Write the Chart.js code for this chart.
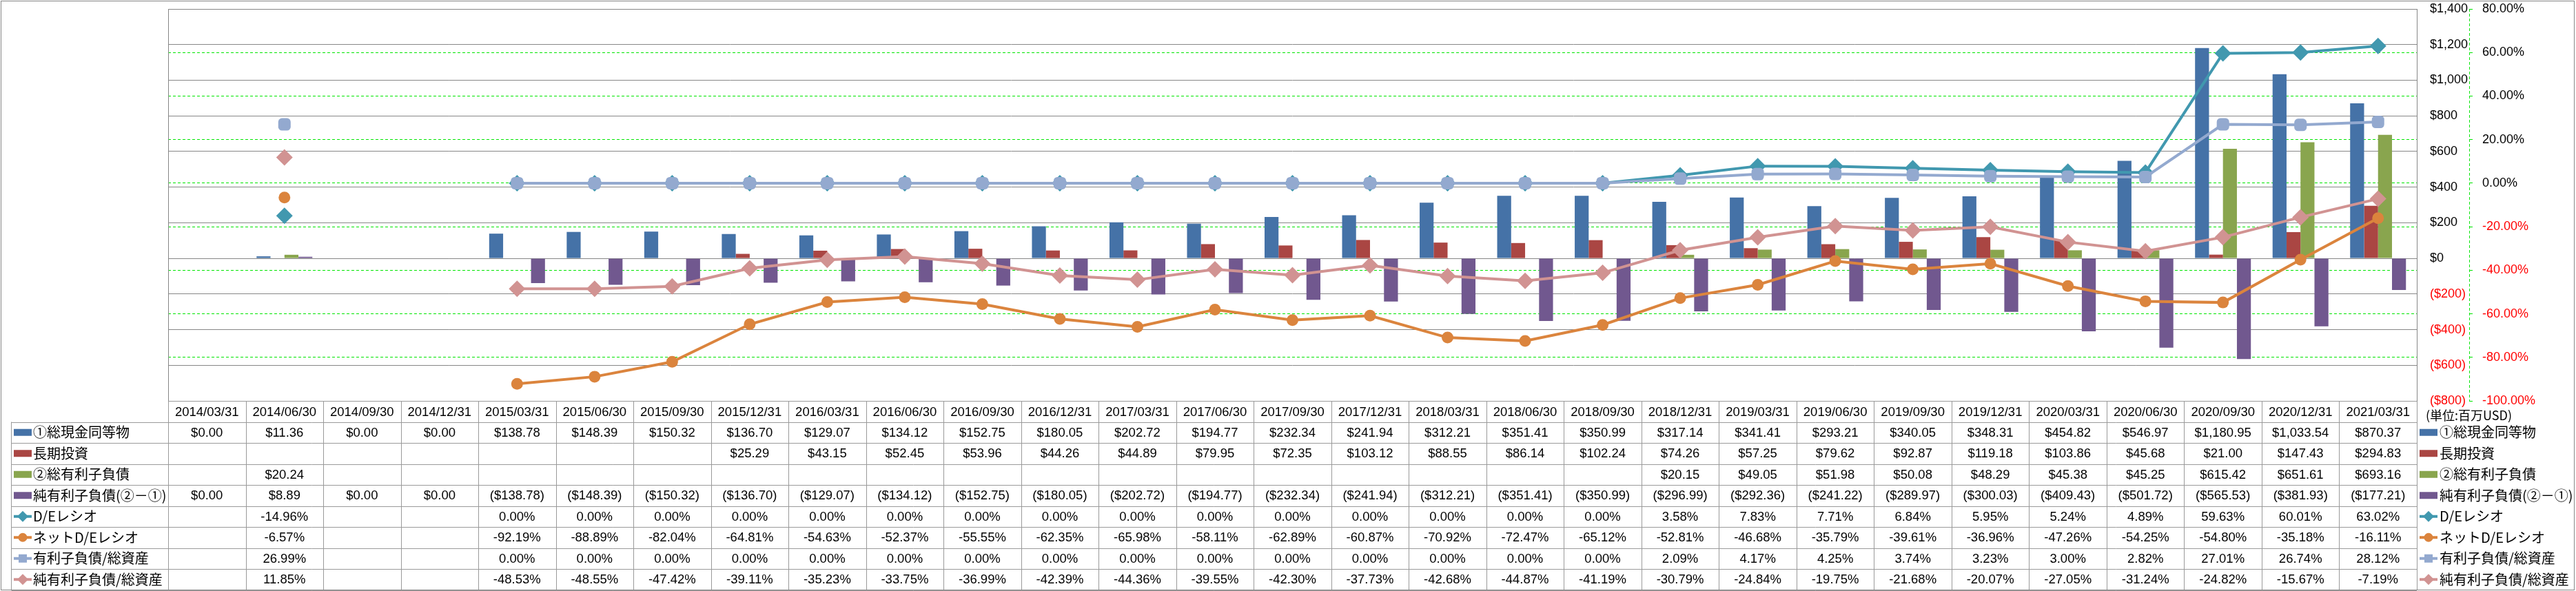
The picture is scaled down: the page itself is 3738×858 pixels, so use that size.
<!DOCTYPE html>
<html>
<head>
<meta charset="utf-8">
<script src="https://cdn.jsdelivr.net/npm/chart.js@4/dist/chart.umd.min.js"></script>
<style>
html, body { margin: 0; padding: 0; background: #fff; }
#wrap { width: 3738px; height: 858px; }
</style>
</head>
<body>
<div id="wrap"><canvas id="chart" width="3738" height="858"></canvas></div>
<script>
var categories = ['2014/03/31', '2014/06/30', '2014/09/30', '2014/12/31',
  '2015/03/31', '2015/06/30', '2015/09/30', '2015/12/31',
  '2016/03/31', '2016/06/30', '2016/09/30', '2016/12/31',
  '2017/03/31', '2017/06/30', '2017/09/30', '2017/12/31',
  '2018/03/31', '2018/06/30', '2018/09/30', '2018/12/31',
  '2019/03/31', '2019/06/30', '2019/09/30', '2019/12/31',
  '2020/03/31', '2020/06/30', '2020/09/30', '2020/12/31',
  '2021/03/31'];

// bars, million USD
var cash = [0.00, 11.36, 0.00, 0.00,
  138.78, 148.39, 150.32, 136.70,
  129.07, 134.12, 152.75, 180.05,
  202.72, 194.77, 232.34, 241.94,
  312.21, 351.41, 350.99, 317.14,
  341.41, 293.21, 340.05, 348.31,
  454.82, 546.97, 1180.95, 1033.54,
  870.37];
var longTermInv = [null, null, null, null,
  null, null, null, 25.29,
  43.15, 52.45, 53.96, 44.26,
  44.89, 79.95, 72.35, 103.12,
  88.55, 86.14, 102.24, 74.26,
  57.25, 79.62, 92.87, 119.18,
  103.86, 45.68, 21.00, 147.43,
  294.83];
var totalDebt = [null, 20.24, null, null,
  null, null, null, null,
  null, null, null, null,
  null, null, null, null,
  null, null, null, 20.15,
  49.05, 51.98, 50.08, 48.29,
  45.38, 45.25, 615.42, 651.61,
  693.16];
var netDebt = [0.00, 8.89, 0.00, 0.00,
  -138.78, -148.39, -150.32, -136.70,
  -129.07, -134.12, -152.75, -180.05,
  -202.72, -194.77, -232.34, -241.94,
  -312.21, -351.41, -350.99, -296.99,
  -292.36, -241.22, -289.97, -300.03,
  -409.43, -501.72, -565.53, -381.93,
  -177.21];

// lines, percent
var deRatio = [null, -14.96, null, null,
  0, 0, 0, 0,
  0, 0, 0, 0,
  0, 0, 0, 0,
  0, 0, 0, 3.58,
  7.83, 7.71, 6.84, 5.95,
  5.24, 4.89, 59.63, 60.01,
  63.02];
var netDeRatio = [null, -6.57, null, null,
  -92.19, -88.89, -82.04, -64.81,
  -54.63, -52.37, -55.55, -62.35,
  -65.98, -58.11, -62.89, -60.87,
  -70.92, -72.47, -65.12, -52.81,
  -46.68, -35.79, -39.61, -36.96,
  -47.26, -54.25, -54.80, -35.18,
  -16.11];
var debtToAssets = [null, 26.99, null, null,
  0, 0, 0, 0,
  0, 0, 0, 0,
  0, 0, 0, 0,
  0, 0, 0, 2.09,
  4.17, 4.25, 3.74, 3.23,
  3.00, 2.82, 27.01, 26.74,
  28.12];
var netDebtToAssets = [null, 11.85, null, null,
  -48.53, -48.55, -47.42, -39.11,
  -35.23, -33.75, -36.99, -42.39,
  -44.36, -39.55, -42.30, -37.73,
  -42.68, -44.87, -41.19, -30.79,
  -24.84, -19.75, -21.68, -20.07,
  -27.05, -31.24, -24.82, -15.67,
  -7.19];

var usdTicks = { min: -800, max: 1400, step: 200 };
var pctTicks = { min: -100, max: 80, step: 20 };
var unitLabel = '(単位:百万USD)';

var LATIN = '"Liberation Sans", Arial, sans-serif';
var CJK = '"Noto Sans CJK JP", "Noto Sans", sans-serif';

function money(v) {
  if (v == null) return '';
  var s = '$' + Math.abs(v).toLocaleString('en-US', { minimumFractionDigits: 2, maximumFractionDigits: 2 });
  return v < 0 ? '(' + s + ')' : s;
}
function pct(v) {
  if (v == null) return '';
  return v.toFixed(2) + '%';
}

// small legend marker, same look as in the table row headers
function drawKey(ctx, ds, x, cy) {
  ctx.save();
  if (ds.type === 'bar') {
    ctx.fillStyle = ds.backgroundColor;
    ctx.fillRect(x, cy - 5, 26, 10);
  } else {
    ctx.strokeStyle = ds.borderColor;
    ctx.lineWidth = 4;
    ctx.beginPath();
    ctx.moveTo(x, cy);
    ctx.lineTo(x + 26, cy);
    ctx.stroke();
    ctx.fillStyle = ds.borderColor;
    var cx = x + 13, r = 8;
    ctx.beginPath();
    if (ds.pointStyle === 'circle') {
      ctx.arc(cx, cy, 6.5, 0, Math.PI * 2);
    } else if (ds.pointStyle === 'rectRounded') {
      ctx.rect(cx - 6, cy - 6, 12, 12);
    } else {
      ctx.moveTo(cx, cy - r);
      ctx.lineTo(cx + r, cy);
      ctx.lineTo(cx, cy + r);
      ctx.lineTo(cx - r, cy);
      ctx.closePath();
    }
    ctx.fill();
  }
  ctx.restore();
}

var tablePlugin = {
  id: 'dataTable',
  afterDraw: function (chart) {
    var ctx = chart.ctx;
    var xs = chart.scales.x;
    var y1 = chart.scales.y1;
    var area = chart.chartArea;
    var n = categories.length;
    var colW = (area.right - area.left) / n;
    var top = Math.round(area.bottom) + 0.5;
    var headH = 30;
    var rowH = 30.5;
    var left = 16.5;
    var datasets = chart.data.datasets;

    ctx.save();
    // plot frame
    ctx.strokeStyle = '#868686';
    ctx.lineWidth = 1;
    ctx.strokeRect(Math.round(area.left) + 0.5, Math.round(area.top) + 0.5,
      Math.round(area.right - area.left), Math.round(area.bottom - area.top));

    // dashed green axis line for the percent axis
    ctx.strokeStyle = '#00E600';
    ctx.setLineDash([4, 3]);
    ctx.beginPath();
    ctx.moveTo(Math.round(y1.left) + 0.5, y1.top);
    ctx.lineTo(Math.round(y1.left) + 0.5, y1.bottom);
    ctx.stroke();
    ctx.setLineDash([]);

    // table grid
    ctx.strokeStyle = '#9a9a9a';
    ctx.lineWidth = 1;
    var bottom = top + headH + rowH * datasets.length;
    ctx.beginPath();
    ctx.moveTo(area.left, top);
    ctx.lineTo(area.right, top);
    for (var r = 0; r <= datasets.length; r++) {
      var yy = Math.round(top + headH + r * rowH) + 0.5;
      ctx.moveTo(left, yy);
      ctx.lineTo(area.right, yy);
    }
    for (var c = 0; c <= n; c++) {
      var xx = Math.round(area.left + c * colW) + 0.5;
      ctx.moveTo(xx, top);
      ctx.lineTo(xx, bottom);
    }
    ctx.moveTo(left, top + headH);
    ctx.lineTo(left, bottom);
    ctx.stroke();

    // header dates
    ctx.fillStyle = '#000';
    ctx.textAlign = 'center';
    ctx.textBaseline = 'middle';
    ctx.font = '18.5px ' + LATIN;
    for (var i = 0; i < n; i++) {
      ctx.fillText(categories[i], xs.getPixelForValue(i), top + headH / 2 + 1);
    }

    // rows
    for (var d = 0; d < datasets.length; d++) {
      var ds = datasets[d];
      var cy = top + headH + d * rowH + rowH / 2;
      ctx.font = '18.5px ' + LATIN;
      ctx.textAlign = 'center';
      ctx.fillStyle = '#000';
      for (var k = 0; k < n; k++) {
        var txt = ds.yAxisID === 'y1' ? pct(ds.data[k]) : money(ds.data[k]);
        if (txt) ctx.fillText(txt, xs.getPixelForValue(k), cy + 1);
      }
      // row header key + label
      drawKey(ctx, ds, 20, cy);
      ctx.font = '20px ' + CJK;
      ctx.textAlign = 'left';
      ctx.fillStyle = '#000';
      ctx.fillText(ds.label, 48, cy);
    }

    // right side legend and unit note, clipped by the outer frame
    ctx.save();
    ctx.beginPath();
    ctx.rect(area.right, 0, 3735 - area.right, 858);
    ctx.clip();
    ctx.font = '18px ' + CJK;
    ctx.textAlign = 'left';
    ctx.fillStyle = '#000';
    ctx.fillText(unitLabel, 3520, top + headH / 2 + 6);
    for (var d2 = 0; d2 < datasets.length; d2++) {
      var cy2 = top + headH + d2 * rowH + rowH / 2;
      drawKey(ctx, datasets[d2], 3511, cy2);
      ctx.font = '20px ' + CJK;
      ctx.fillStyle = '#000';
      ctx.fillText(datasets[d2].label, 3540, cy2);
    }
    ctx.restore();

    // outer frame
    ctx.strokeStyle = '#868686';
    ctx.lineWidth = 1;
    ctx.strokeRect(1.5, 1.5, 3734, 855);
    ctx.restore();
  }
};

function negRed(c) {
  return c.tick && c.tick.value < 0 ? '#FF0000' : '#000000';
}

// keep the plot area where the reference has it, the tick padding would push it down
function fixWidth(w) {
  return function (s) {
    s.width = w;
    s.paddingTop = 8;
    s.paddingBottom = 8;
  };
}

new Chart(document.getElementById('chart'), {
  type: 'bar',
  data: {
    labels: categories,
    datasets: [
      { type: 'bar', label: '①総現金同等物', data: cash, backgroundColor: '#4572A7', yAxisID: 'y', order: 4 },
      { type: 'bar', label: '長期投資', data: longTermInv, backgroundColor: '#AA4643', yAxisID: 'y', order: 5 },
      { type: 'bar', label: '②総有利子負債', data: totalDebt, backgroundColor: '#89A54E', yAxisID: 'y', order: 6 },
      { type: 'bar', label: '純有利子負債(②－①)', data: netDebt, backgroundColor: '#71588F', yAxisID: 'y', order: 7 },
      { type: 'line', label: 'D/Eレシオ', data: deRatio, borderColor: '#4198AF', backgroundColor: '#4198AF',
        pointStyle: 'rectRot', pointRadius: 12, yAxisID: 'y1', order: 3 },
      { type: 'line', label: 'ネットD/Eレシオ', data: netDeRatio, borderColor: '#DB843D', backgroundColor: '#DB843D',
        pointStyle: 'circle', pointRadius: 8.5, yAxisID: 'y1', order: 2 },
      { type: 'line', label: '有利子負債/総資産', data: debtToAssets, borderColor: '#93A9CF', backgroundColor: '#93A9CF',
        pointStyle: 'rectRounded', pointRadius: 10.5, yAxisID: 'y1', order: 1 },
      { type: 'line', label: '純有利子負債/総資産', data: netDebtToAssets, borderColor: '#D19392', backgroundColor: '#D19392',
        pointStyle: 'rectRot', pointRadius: 12, yAxisID: 'y1', order: 0 }
    ]
  },
  options: {
    responsive: false,
    animation: false,
    devicePixelRatio: 1,
    layout: { padding: { left: 244, right: 5, top: 13, bottom: 276 } },
    datasets: {
      bar: { categoryPercentage: 0.72, barPercentage: 1.0, borderWidth: 0 },
      line: { borderWidth: 4, tension: 0, spanGaps: false, pointBorderWidth: 0, pointHoverRadius: 12 }
    },
    plugins: {
      legend: { display: false },
      tooltip: { enabled: false }
    },
    scales: {
      x: {
        type: 'category',
        display: false,
        offset: true,
        grid: { display: false }
      },
      y: {
        position: 'right',
        min: usdTicks.min,
        max: usdTicks.max,
        afterFit: fixWidth(76),
        grid: { color: '#878787', lineWidth: 1, drawTicks: false },
        border: { display: false },
        ticks: {
          stepSize: usdTicks.step,
          padding: 19,
          color: negRed,
          font: { family: LATIN, size: 18 },
          callback: function (v) {
            var s = '$' + Math.abs(v).toLocaleString('en-US');
            return v < 0 ? '(' + s + ')' : s;
          }
        }
      },
      y1: {
        position: 'right',
        min: pctTicks.min,
        max: pctTicks.max,
        afterFit: fixWidth(150),
        grid: { color: '#00E600', lineWidth: 1, drawTicks: true, tickLength: 5, tickColor: '#00E600' },
        border: { display: false, dash: [4, 3] },
        ticks: {
          stepSize: pctTicks.step,
          padding: 14,
          color: negRed,
          font: { family: LATIN, size: 18 },
          callback: function (v) { return v.toFixed(2) + '%'; }
        }
      }
    }
  },
  plugins: [tablePlugin]
});
</script>
</body>
</html>
